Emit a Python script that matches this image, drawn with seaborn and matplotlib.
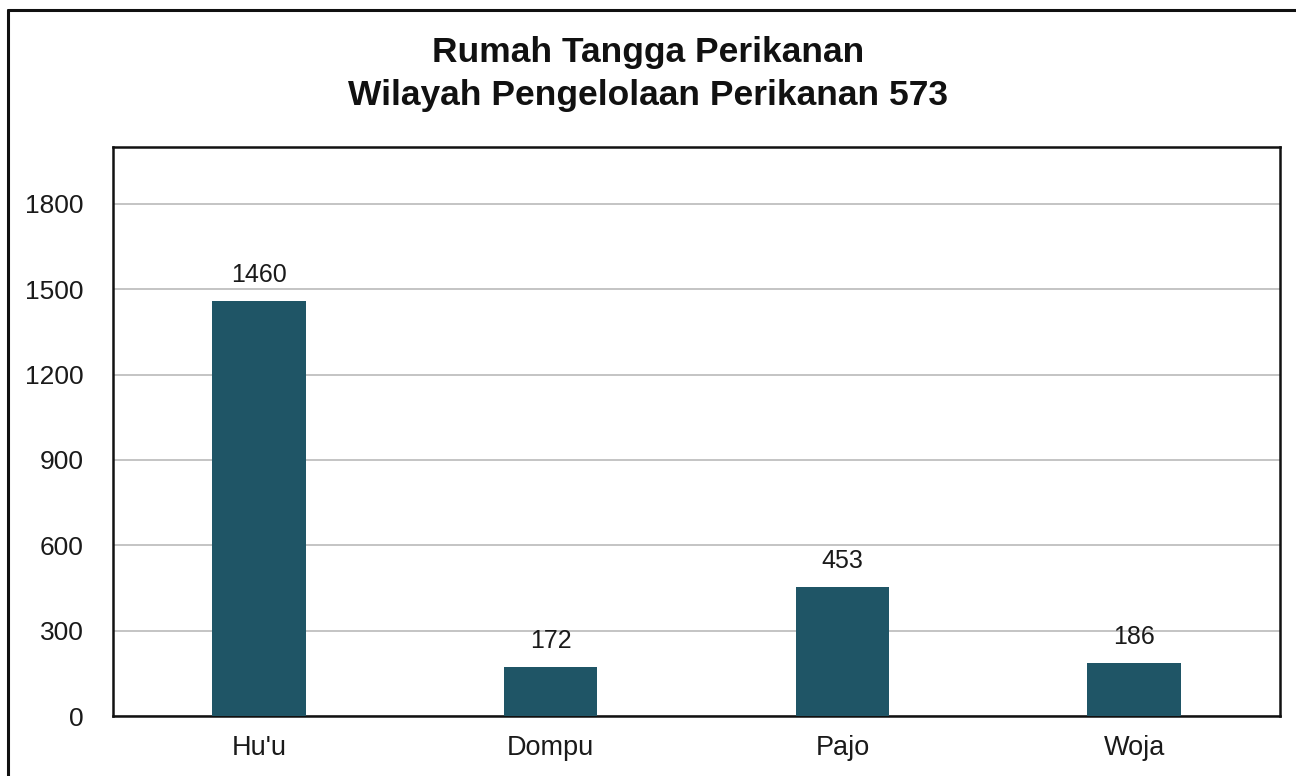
import matplotlib
matplotlib.use("Agg")
import matplotlib.pyplot as plt
import seaborn as sns
import pandas as pd
from matplotlib.lines import Line2D

# Data
kecamatan = ["Hu'u", "Dompu", "Pajo", "Woja"]
rumah_tangga = [1460, 172, 453, 186]
y_ticks = [0, 300, 600, 900, 1200, 1500, 1800]

df = pd.DataFrame({"kecamatan": kecamatan, "rtp": rumah_tangga})

sns.set_theme(style="white")
plt.rcParams["font.family"] = ["Liberation Sans", "DejaVu Sans"]

fig = plt.figure(figsize=(12.96, 7.76), dpi=100)
ax = fig.add_axes([113 / 1296, 60 / 776, (1280 - 113) / 1296, (716 - 147) / 776])

sns.barplot(data=df, x="kecamatan", y="rtp", color="#1f5566", width=0.32,
            saturation=1, linewidth=0, ax=ax, zorder=3)

ax.bar_label(ax.containers[0], fontsize=18, padding=10, color="#1a1a1a")

ax.set_ylim(0, 2000)
ax.set_xlim(-0.5, 3.5)
ax.set_yticks(y_ticks)
ax.yaxis.grid(True, color="#c4c4c4", linewidth=1.4, zorder=0)
ax.set_axisbelow(True)
ax.tick_params(axis="y", length=0, pad=21, labelsize=19, labelcolor="#1a1a1a")
ax.tick_params(axis="x", length=0, pad=14, labelsize=19.5, labelcolor="#1a1a1a")
ax.set_xlabel("")
ax.set_ylabel("")
for s in ax.spines.values():
    s.set_visible(True)
    s.set_color("#111111")
    s.set_linewidth(1.8)

fig.text(0.5, 1 - 74 / 776, "Rumah Tangga Perikanan\nWilayah Pengelolaan Perikanan 573",
         ha="center", va="center", fontsize=25.5, fontweight="bold", color="#111111",
         linespacing=1.4)

# outer frame (cropped at right and bottom in the original)
fig.add_artist(Line2D([8 / 1296, 8 / 1296], [0, 1 - 10 / 776], transform=fig.transFigure,
                      color="#111111", linewidth=2.2))
fig.add_artist(Line2D([8 / 1296, 1], [1 - 10 / 776, 1 - 10 / 776], transform=fig.transFigure,
                      color="#111111", linewidth=2.2))

fig.savefig("out.png", dpi=100, facecolor="white")
